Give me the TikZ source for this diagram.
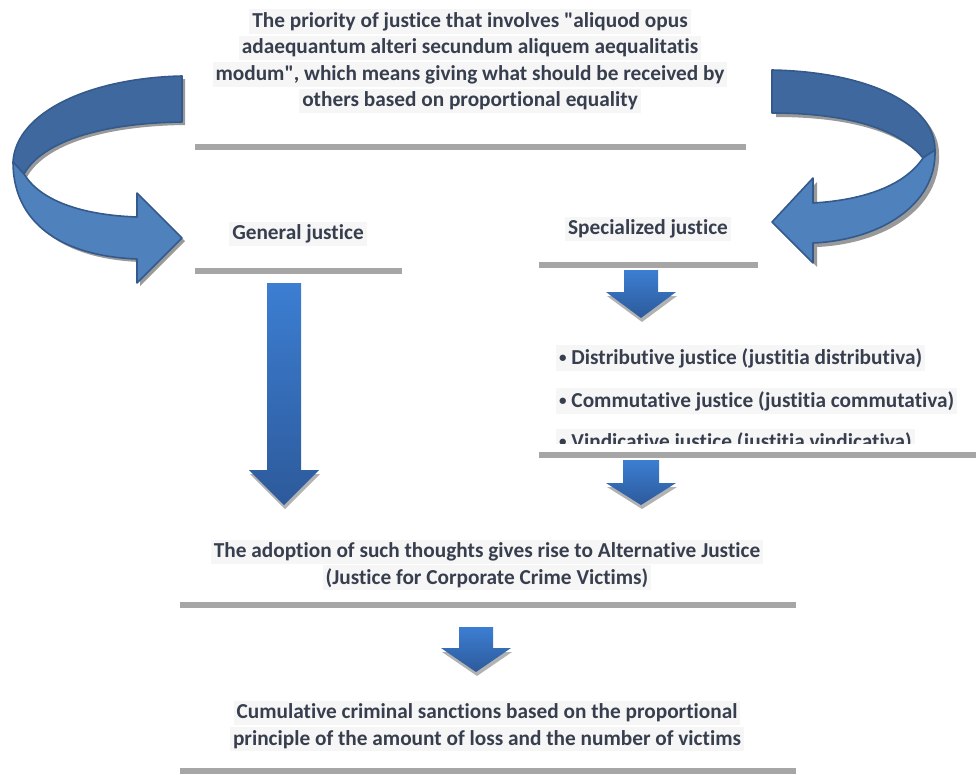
\documentclass[tikz,border=0pt]{standalone}
\usepackage{fontspec}
\setmainfont{Carlito}[Ligatures=NoCommon]
\usepackage{tikz}

\definecolor{txtgray}{RGB}{55,62,78}
\definecolor{hlgray}{RGB}{246,246,246}
\definecolor{rulegray}{RGB}{166,166,166}
\definecolor{blueup}{RGB}{60,126,210}
\definecolor{bluedn}{RGB}{45,90,155}
\definecolor{bluedark}{RGB}{62,104,158}
\definecolor{bluelight}{RGB}{79,129,189}
\definecolor{blueedge}{RGB}{52,90,140}

\newcommand{\hl}[1]{\colorbox{hlgray}{#1}}
\newcommand{\bul}{{\fontsize{15}{15}\selectfont\raisebox{1.5pt}{•}}\ }

\tikzset{
  txt/.style={text=txtgray, font=\fontsize{21.3}{26.5}\selectfont\bfseries, align=center, inner sep=0pt},
  rule/.style={draw=rulegray, line width=5.5pt},
  blockfill/.style={top color=blueup, bottom color=bluedn},
  bandedge/.style={draw=blueedge, line width=1.6pt, line join=round},
  bandshadow/.style={fill=black!40},
}

% block arrow pointing down: centre x, top y, head base y, tip y, shaft half width, head half width
\newcommand{\downblock}[6]{%
  \fill[black!30] ({#1-#6+1},{#3+4}) -- ({#1+1},{#4+4}) -- ({#1+#6+1},{#3+4}) -- cycle;
  \path[blockfill] ({#1-#5},#2) -- ({#1+#5},#2) -- ({#1+#5},#3) -- ({#1+#6},#3)
    -- (#1,#4) -- ({#1-#6},#3) -- ({#1-#5},#3) -- cycle;
}

\begin{document}
\begin{tikzpicture}[x=1pt,y=1pt,yscale=-1,xscale=1]
\useasboundingbox (0,0) rectangle (976,774);

% text blocks
\node[txt] (priority) at (470,61) {\hl{The priority of justice that involves \textquotedbl aliquod opus}\\
  \hl{adaequantum alteri secundum aliquem aequalitatis}\\
  \hl{modum\textquotedbl, which means giving what should be received by}\\
  \hl{others based on proportional equality}};
\node[txt] (general) at (298,234) {\hl{General justice}};
\node[txt] (special) at (648,229) {\hl{Specialized justice}};
\node[txt,anchor=west] (distrib) at (556,358) {\hl{\bul Distributive justice (justitia distributiva)}};
\node[txt,anchor=west] (commut) at (556,401) {\hl{\bul Commutative justice (justitia commutativa)}};
\begin{scope}
  \clip (530,420) rectangle (976,443);
  \node[txt,anchor=west] (vindic) at (556,442) {\hl{\bul Vindicative justice (justitia vindicativa)}};
\end{scope}
\node[txt] (adoption) at (487,565) {\hl{The adoption of such thoughts gives rise to Alternative Justice}\\
  \hl{(Justice for Corporate Crime Victims)}};
\node[txt] (cumul) at (487,726) {\hl{Cumulative criminal sanctions based on the proportional}\\
  \hl{principle of the amount of loss and the number of victims}};

% rules
\draw[rule] (195,147) -- (746,147);
\draw[rule] (195,271) -- (402,271);
\draw[rule] (539,265) -- (758,265);
\draw[rule] (539,455) -- (976,455);
\draw[rule] (180,605) -- (796,605);
\draw[rule] (180,771) -- (796,771);

% straight arrows
\downblock{284}{283}{470}{505}{17}{35}
\downblock{641}{270}{292}{318}{17}{35}
\downblock{641}{460}{483}{505}{18}{35}
\downblock{476}{627}{648}{672}{17}{35}

% curved arrow, left
\begin{scope}[shift={(3,3)}]
\fill[bandshadow] (182,76) .. controls (90,78) and (16,112) .. (13,162) -- (24,174) .. controls (42,142) and (100,123) .. (182,122) -- cycle;
\fill[bandshadow] (13,162) .. controls (13,222) and (60,256) .. (137,259) -- (137,283) -- (182,238) -- (137,193) -- (137,217) .. controls (80,215) and (40,200) .. (24,174) -- cycle;
\end{scope}
\filldraw[bandedge,fill=bluedark] (182,76) .. controls (90,78) and (16,112) .. (13,162) -- (24,174) .. controls (42,142) and (100,123) .. (182,122) -- cycle;
\filldraw[bandedge,fill=bluelight] (13,162) .. controls (13,222) and (60,256) .. (137,259) -- (137,283) -- (182,238) -- (137,193) -- (137,217) .. controls (80,215) and (40,200) .. (24,174) -- cycle;

% curved arrow, right
\begin{scope}[shift={(4,4)}]
\fill[bandshadow] (772,70) .. controls (870,72) and (935,105) .. (935,150) -- (923,158) .. controls (900,130) and (850,113) .. (772,113) -- cycle;
\fill[bandshadow] (935,150) .. controls (937,205) and (880,240) .. (813,243) -- (813,263) -- (772,222) -- (813,178) -- (813,203) .. controls (865,200) and (905,185) .. (923,158) -- cycle;
\end{scope}
\filldraw[bandedge,fill=bluedark] (772,70) .. controls (870,72) and (935,105) .. (935,150) -- (923,158) .. controls (900,130) and (850,113) .. (772,113) -- cycle;
\filldraw[bandedge,fill=bluelight] (935,150) .. controls (937,205) and (880,240) .. (813,243) -- (813,263) -- (772,222) -- (813,178) -- (813,203) .. controls (865,200) and (905,185) .. (923,158) -- cycle;
\end{tikzpicture}
\end{document}
